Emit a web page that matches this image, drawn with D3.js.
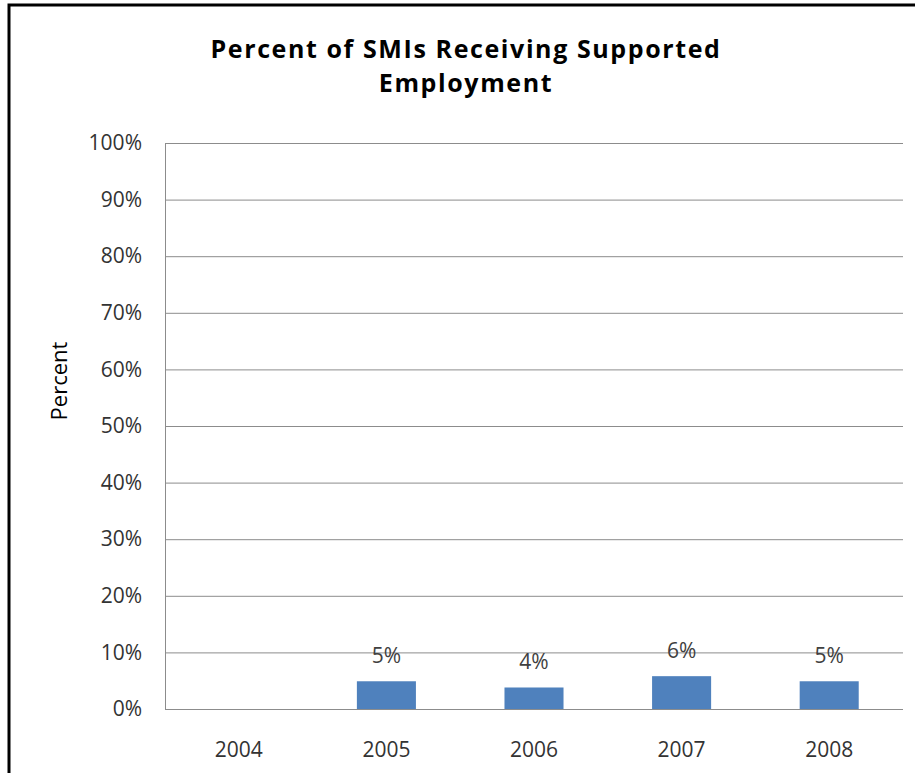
<!DOCTYPE html>
<html>
<head>
<meta charset="utf-8">
<script src="https://cdn.jsdelivr.net/npm/d3@7"></script>
<style>
  body { margin: 0; background: #fff; }
  text { font-family: "Open Sans", "DejaVu Sans", sans-serif; }
</style>
</head>
<body>
<script>
var w = 915;
var h = 773;

// data
var years = ["2004", "2005", "2006", "2007", "2008"];
var percents = [null, 4.9, 3.8, 5.8, 4.9];
var shownLabels = ["", "5%", "4%", "6%", "5%"];
var yTicks = [0, 10, 20, 30, 40, 50, 60, 70, 80, 90, 100];
var titleLines = ["Percent of SMIs Receiving Supported", "Employment"];

var plot = {left: 165, right: 903, top: 143, bottom: 709};

var svg = d3.select("body")
    .append("svg")
    .attr("width", w)
    .attr("height", h);

// outer frame (left + top only visible)
svg.append("path")
    .attr("d", "M9,773 V5 H915")
    .attr("fill", "none")
    .attr("stroke", "#000")
    .attr("stroke-width", 3);

var x = d3.scaleBand()
    .domain(years)
    .range([plot.left, plot.right])
    .paddingInner(0.6)
    .paddingOuter(0.3);

var xCat = d3.scaleBand()
    .domain(years)
    .range([plot.left, plot.right]);

var y = d3.scaleLinear()
    .domain([0, 100])
    .range([plot.bottom, plot.top]);

// gridlines
svg.append("g")
    .selectAll("line")
    .data(yTicks)
    .enter()
    .append("line")
    .attr("x1", plot.left)
    .attr("x2", plot.right)
    .attr("y1", function(d) { return y(d) + 0.5; })
    .attr("y2", function(d) { return y(d) + 0.5; })
    .attr("stroke", "#8c8c8c")
    .attr("stroke-width", 1);

// y axis line
svg.append("line")
    .attr("x1", plot.left + 0.5)
    .attr("x2", plot.left + 0.5)
    .attr("y1", plot.top)
    .attr("y2", plot.bottom + 1)
    .attr("stroke", "#8c8c8c");

// y tick labels
var yAxis = d3.axisLeft(y)
    .tickValues(yTicks)
    .tickFormat(function(d) { return d + "%"; })
    .tickSize(0)
    .tickPadding(23);

var gy = svg.append("g")
    .attr("transform", "translate(" + plot.left + ",0)")
    .call(yAxis);
gy.select(".domain").remove();
gy.selectAll("text")
    .attr("font-size", 21)
    .attr("fill", "#333")
    .style("font-family", "'Open Sans', sans-serif");

// x tick labels
var xAxis = d3.axisBottom(xCat)
    .tickSize(0)
    .tickPadding(33);

var gx = svg.append("g")
    .attr("transform", "translate(0," + plot.bottom + ")")
    .call(xAxis);
gx.select(".domain").remove();
gx.selectAll("text")
    .attr("font-size", 21)
    .attr("fill", "#333")
    .style("font-family", "'Open Sans', sans-serif");

// bars
var rows = years.map(function(d, i) {
  return {year: d, value: percents[i], label: shownLabels[i]};
}).filter(function(d) { return d.value !== null; });

svg.append("g")
    .selectAll("rect")
    .data(rows)
    .enter()
    .append("rect")
    .attr("x", function(d) { return x(d.year); })
    .attr("width", x.bandwidth())
    .attr("y", function(d) { return y(d.value); })
    .attr("height", function(d) { return y(0) - y(d.value); })
    .attr("fill", "#4f81bd");

// value labels
svg.append("g")
    .selectAll("text")
    .data(rows)
    .enter()
    .append("text")
    .attr("x", function(d) { return x(d.year) + x.bandwidth() / 2; })
    .attr("y", function(d) { return y(d.value) - 18; })
    .attr("text-anchor", "middle")
    .attr("font-size", 21)
    .attr("fill", "#404040")
    .text(function(d) { return d.label; });

// y axis title
svg.append("text")
    .attr("transform", "translate(67,381) rotate(-90)")
    .attr("text-anchor", "middle")
    .attr("font-size", 22)
    .attr("fill", "#000")
    .text("Percent");

// chart title, two lines
svg.append("g")
    .selectAll("text")
    .data(titleLines)
    .enter()
    .append("text")
    .attr("x", 466)
    .attr("y", function(d, i) { return 58 + i * 34; })
    .attr("text-anchor", "middle")
    .attr("font-size", 25)
    .attr("font-weight", "bold")
    .attr("letter-spacing", 1.6)
    .attr("fill", "#000")
    .text(function(d) { return d; });
</script>
</body>
</html>
